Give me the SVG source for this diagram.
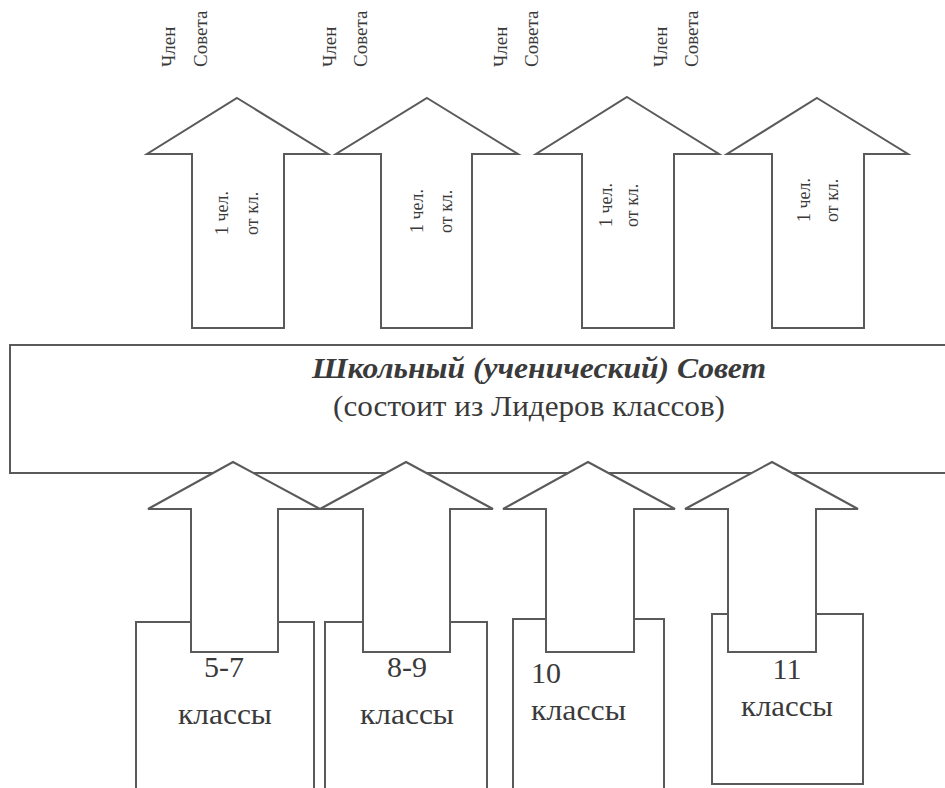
<svg xmlns="http://www.w3.org/2000/svg" width="945" height="788" viewBox="0 0 945 788">
<style>
.box{fill:#fff;stroke:#5a5a5a;stroke-width:2}
.arr{fill:#fff;stroke:#5a5a5a;stroke-width:2;stroke-linejoin:miter}
.lbl{font-size:19px}
.small{font-size:18px}
.cls{font-size:30px}
.title{font-size:29px;font-weight:bold;font-style:italic}
.sub{font-size:30px}
</style>
<rect width="945" height="788" fill="#fff"/>
<g font-family="Liberation Serif, Times New Roman, serif" fill="#3a3a3a">

<g id="council">
<rect class="box" x="10" y="345" width="960" height="128"/>
<text class="title" x="539" y="378" text-anchor="middle" textLength="454" lengthAdjust="spacingAndGlyphs">Школьный (ученический) Совет</text>
<text class="sub" x="529" y="416" text-anchor="middle" textLength="392" lengthAdjust="spacingAndGlyphs">(состоит из Лидеров классов)</text>
</g>

<g id="class-5-7">
<rect class="box" x="136" y="622" width="178" height="190"/>
<text class="cls" x="224" y="677" text-anchor="middle">5-7</text>
<text class="cls" x="225" y="724" text-anchor="middle" textLength="94" lengthAdjust="spacingAndGlyphs">классы</text>
</g>
<g id="class-8-9">
<rect class="box" x="325" y="622" width="162" height="190"/>
<text class="cls" x="407" y="677" text-anchor="middle">8-9</text>
<text class="cls" x="407" y="724" text-anchor="middle" textLength="94" lengthAdjust="spacingAndGlyphs">классы</text>
</g>
<g id="class-10">
<rect class="box" x="513" y="619" width="151" height="190"/>
<text class="cls" x="531" y="683">10</text>
<text class="cls" x="531" y="720" textLength="95" lengthAdjust="spacingAndGlyphs">классы</text>
</g>
<g id="class-11">
<rect class="box" x="712" y="614" width="151" height="170"/>
<text class="cls" x="787" y="679" text-anchor="middle">11</text>
<text class="cls" x="741" y="716" textLength="92" lengthAdjust="spacingAndGlyphs">классы</text>
</g>

<g id="connectors">
<polygon class="arr" points="237,98 328,154 284,154 284,328 192,328 192,154 147,154"/>
<polygon class="arr" points="427,98 518,154 472,154 472,328 381,328 381,154 336,154"/>
<polygon class="arr" points="627,97 719,154 674,154 674,328 582,328 582,154 536,154"/>
<polygon class="arr" points="817,98 908,154 864,154 864,328 772,328 772,154 727,154"/>

<polygon class="arr" points="233,462 320,509 278,509 278,652 191,652 191,509 148,509"/>
<polygon class="arr" points="406,462 493,509 450,509 450,652 363,652 363,509 320,509"/>
<polygon class="arr" points="588,462 675,509 634,509 634,652 546,652 546,509 503,509"/>
<polygon class="arr" points="772,462 858,509 816,509 816,652 728,652 728,509 685,509"/>
</g>

<g id="arrow-labels">
<text class="small" transform="translate(228,235) rotate(-90)">1 чел.</text>
<text class="small" transform="translate(258,235) rotate(-90)">от кл.</text>
<text class="small" transform="translate(423,233) rotate(-90)">1 чел.</text>
<text class="small" transform="translate(452,233) rotate(-90)">от кл.</text>
<text class="small" transform="translate(612,227) rotate(-90)">1 чел.</text>
<text class="small" transform="translate(638,227) rotate(-90)">от кл.</text>
<text class="small" transform="translate(810,222) rotate(-90)">1 чел.</text>
<text class="small" transform="translate(838,222) rotate(-90)">от кл.</text>
</g>

<g id="member-1">
<text class="lbl" transform="translate(175,67) rotate(-90)">Член</text>
<text class="lbl" transform="translate(207,67) rotate(-90)">Совета</text>
</g>
<g id="member-2">
<text class="lbl" transform="translate(336,67) rotate(-90)">Член</text>
<text class="lbl" transform="translate(367,67) rotate(-90)">Совета</text>
</g>
<g id="member-3">
<text class="lbl" transform="translate(507,67) rotate(-90)">Член</text>
<text class="lbl" transform="translate(538,67) rotate(-90)">Совета</text>
</g>
<g id="member-4">
<text class="lbl" transform="translate(667,67) rotate(-90)">Член</text>
<text class="lbl" transform="translate(698,67) rotate(-90)">Совета</text>
</g>
</g>
</svg>
